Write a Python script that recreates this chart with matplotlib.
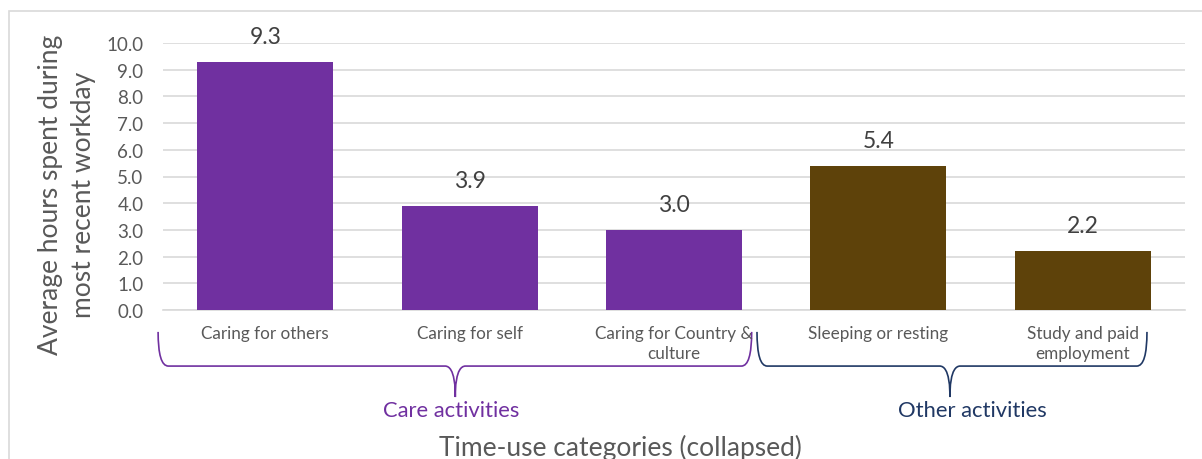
import matplotlib.pyplot as plt
from matplotlib.path import Path
from matplotlib.patches import PathPatch, Rectangle

plt.rcParams['font.family'] = ['Lato', 'DejaVu Sans']

categories = ['Caring for others', 'Caring for self', 'Caring for Country &\nculture',
              'Sleeping or resting', 'Study and paid\nemployment']
hours = [9.3, 3.9, 3.0, 5.4, 2.2]
bar_colors = ['#7030A0', '#7030A0', '#7030A0', '#5E420A', '#5E420A']
yticks = [0, 1, 2, 3, 4, 5, 6, 7, 8, 9, 10]

groups = ['Care activities', 'Other activities']
group_spans = [(-0.524, 2.38), (2.406, 4.314)]
group_tips = [0.93, 3.35]
group_label_x = [0.91, 3.46]
group_colors = ['#7030A0', '#203864']

text_gray = '#595959'
grid_gray = '#D9D9D9'

fig = plt.figure(figsize=(12.02, 4.6), dpi=100)
ax = fig.add_axes([163 / 1202, 149 / 460, 1022 / 1202, 267 / 460])

# outer chart border
fig.patches.append(Rectangle((9 / 1202, -0.1), 1.2, 0.1 + 448 / 460, transform=fig.transFigure,
                             fill=False, edgecolor=grid_gray, linewidth=1.2))

x = range(len(categories))
ax.bar(x, hours, width=0.665, color=bar_colors, zorder=3)
for i, v in enumerate(hours):
    ax.annotate(f'{v:.1f}', (i, v), xytext=(0, 15), textcoords='offset pixels',
                ha='center', va='bottom', fontsize=16.5, color='#404040')

ax.set_xlim(-0.5, 4.5)
ax.set_ylim(0, 10)
ax.set_yticks(yticks)
ax.set_yticklabels([f'{t:.1f}' for t in yticks], fontsize=13.5, color=text_gray)
ax.yaxis.grid(True, color=grid_gray, linewidth=1.2, zorder=0)
ax.tick_params(axis='y', length=0, pad=14)
ax.tick_params(axis='x', length=0, pad=11)
ax.set_xticks(list(x))
ax.set_xticklabels(categories, fontsize=12.3, color=text_gray, va='top', linespacing=1.3)
for s in ['top', 'right', 'left']:
    ax.spines[s].set_visible(False)
ax.spines['bottom'].set_color(grid_gray)
ax.spines['bottom'].set_linewidth(1.2)

ax.set_ylabel('Average hours spent during\nmost recent workday', fontsize=19,
              color=text_gray, linespacing=1.4)
ax.yaxis.set_label_coords(-0.066, 0.434)
ax.text((620 - 163) / 1022, -137 / 267, 'Time-use categories (collapsed)',
        transform=ax.transAxes, ha='center', va='center', fontsize=19, color=text_gray)

# curly brackets under each group of categories
y_top, y_mid, y_tip = -0.82, -2.1, -3.26
for (x0, x1), xm, lx, name, col in zip(group_spans, group_tips, group_label_x, groups, group_colors):
    r = 0.05
    verts = [(x0, y_top), (x0, y_mid), (x0 + r, y_mid),
             (xm - r, y_mid),
             (xm, y_mid), (xm, y_tip * 0.8 + y_mid * 0.2),
             (xm, y_tip),
             (xm, y_tip * 0.8 + y_mid * 0.2), (xm, y_mid), (xm + r, y_mid),
             (x1 - r, y_mid),
             (x1, y_mid), (x1, y_top)]
    codes = [Path.MOVETO, Path.CURVE3, Path.CURVE3,
             Path.LINETO,
             Path.CURVE4, Path.CURVE4, Path.CURVE4,
             Path.CURVE4, Path.CURVE4, Path.CURVE4,
             Path.LINETO,
             Path.CURVE3, Path.CURVE3]
    ax.add_patch(PathPatch(Path(verts, codes), fill=False, edgecolor=col,
                           linewidth=1.2, clip_on=False))
    ax.text(lx, -3.75, name, ha='center', va='center', fontsize=15.8, color=col)

fig.savefig('out.png', dpi=100)
